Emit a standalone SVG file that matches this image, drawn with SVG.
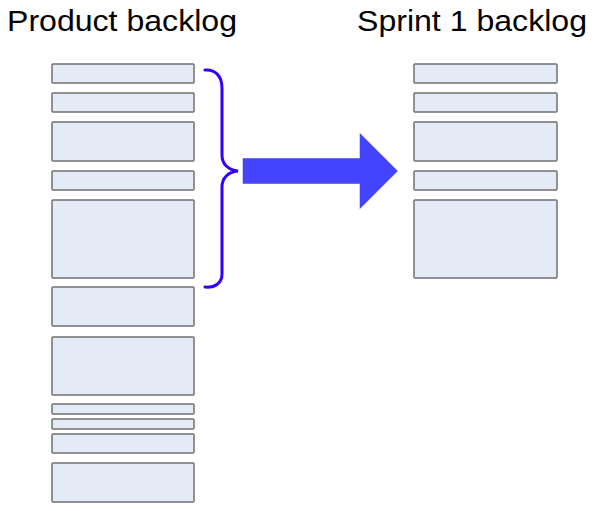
<svg xmlns="http://www.w3.org/2000/svg" width="600" height="511" viewBox="0 0 600 511">
<style>
.title{font-family:"Liberation Sans",Arial,sans-serif;font-size:29px;fill:#000}
.item{fill:#e4ebf7;stroke:#707070;stroke-width:1.5}
.brace{fill:none;stroke:#3300ff;stroke-width:3;stroke-linecap:round}
.arrow{fill:#4444ff;stroke:#3a3aee;stroke-width:0.5}
</style>
<rect width="600" height="511" fill="#fff"/>
<g id="title-product">
<text class="title" x="7" y="31" textLength="230" lengthAdjust="spacingAndGlyphs">Product backlog</text>
</g>
<g id="title-sprint">
<text class="title" x="357" y="31" textLength="230" lengthAdjust="spacingAndGlyphs">Sprint 1 backlog</text>
</g>
<g id="product-backlog">
<rect id="p1" class="item" x="52" y="64" width="142" height="19" rx="1"/>
<rect id="p2" class="item" x="52" y="93" width="142" height="19" rx="1"/>
<rect id="p3" class="item" x="52" y="122" width="142" height="39" rx="1"/>
<rect id="p4" class="item" x="52" y="171" width="142" height="19" rx="1"/>
<rect id="p5" class="item" x="52" y="200" width="142" height="78" rx="1"/>
<rect id="p6" class="item" x="52" y="287" width="142" height="39" rx="1"/>
<rect id="p7" class="item" x="52" y="337" width="142" height="58" rx="1"/>
<rect id="p8" class="item" x="52" y="404" width="142" height="10" rx="1"/>
<rect id="p9" class="item" x="52" y="419" width="142" height="10" rx="1"/>
<rect id="p10" class="item" x="52" y="434" width="142" height="19" rx="1"/>
<rect id="p11" class="item" x="52" y="463" width="142" height="39" rx="1"/>
</g>
<g id="sprint-backlog">
<rect id="s1" class="item" x="414" y="64" width="143" height="19" rx="1"/>
<rect id="s2" class="item" x="414" y="93" width="143" height="19" rx="1"/>
<rect id="s3" class="item" x="414" y="122" width="143" height="39" rx="1"/>
<rect id="s4" class="item" x="414" y="171" width="143" height="19" rx="1"/>
<rect id="s5" class="item" x="414" y="200" width="143" height="78" rx="1"/>
</g>
<g id="connectors">
<path id="brace" class="brace" d="M205,70 C215,69 222,76 222,88 L222,155 C222,164 228,170 238,171 C228,172 222,178 222,187 L222,274 C222,283 215,288 205,287"/>
<path id="arrow" class="arrow" d="M243,158.5 L360,158.5 L360,133.5 L397.5,171 L360,208.5 L360,183.5 L243,183.5 Z"/>
</g>
</svg>
